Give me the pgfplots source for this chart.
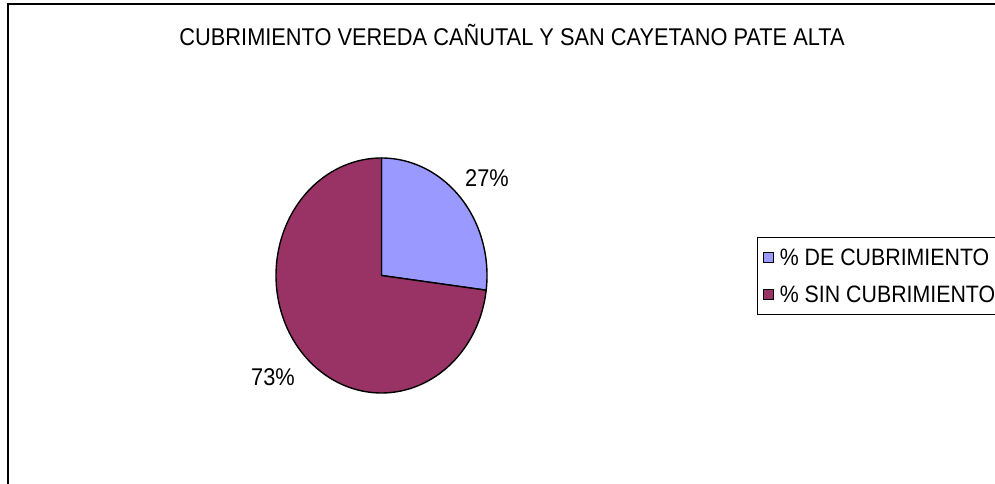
\documentclass[border=0pt]{standalone}
\usepackage{pgfplots}
\usepackage{pgfplotstable}
\pgfplotsset{compat=1.18}
\usepackage{fontspec}
\setmainfont{Liberation Sans}[FakeStretch=0.9]

\definecolor{cubierto}{HTML}{9999FF}
\definecolor{sincubrir}{HTML}{993366}

% share of each category (percent)
\pgfplotstableread{
categoria valor
cubierto   27
sincubrir  73
}\cubrimiento

\pgfplotstablegetelem{0}{valor}\of\cubrimiento
\let\valA\pgfplotsretval
\pgfplotstablegetelem{1}{valor}\of\cubrimiento
\let\valB\pgfplotsretval

% pie geometry in picture units (bp), slightly compressed horizontally
\def\cx{381.5}
\def\cy{208.5}
\def\rx{105.5}
\def\ry{117.5}

\begin{document}
\begin{tikzpicture}[x=1bp,y=1bp]
\useasboundingbox (0,0) rectangle (995,484);
\clip (0,0) rectangle (995,484);
\pgfmathsetmacro{\angA}{90-3.6*\valA}
\pgfmathsetmacro{\angB}{\angA-3.6*\valB}
\begin{axis}[
  at={(0,0)}, anchor=south west,
  scale only axis,
  width=995bp, height=484bp,
  xmin=0, xmax=995, ymin=0, ymax=484,
  hide axis,
  clip=false,
  font=\fontsize{24.3}{28}\selectfont,
  legend style={
    at={(axis cs:757,247)}, anchor=north west,
    draw=black, line width=1.4pt,
    inner xsep=5pt, inner ysep=9pt,
    row sep=15pt,
    font=\fontsize{23.8}{27}\selectfont,
    cells={anchor=west},
  },
]
  % covered share
  \addplot[fill=cubierto, draw=black, line width=1.4pt,
           domain=\angA:90, samples=80,
           legend image code/.code={
             \draw[fill=cubierto, draw=black, line width=1.2pt]
               (0bp,-5bp) rectangle (10bp,5bp);}]
    ({\cx+\rx*cos(x)}, {\cy+\ry*sin(x)}) -- (axis cs:\cx,\cy) -- cycle;
  \addlegendentry{\,\% DE CUBRIMIENTO}
  % uncovered share
  \addplot[fill=sincubrir, draw=black, line width=1.4pt,
           domain=\angB:\angA, samples=160,
           legend image code/.code={
             \draw[fill=sincubrir, draw=black, line width=1.2pt]
               (0bp,-5bp) rectangle (10bp,5bp);}]
    ({\cx+\rx*cos(x)}, {\cy+\ry*sin(x)}) -- (axis cs:\cx,\cy) -- cycle;
  \addlegendentry{\,\% SIN CUBRIMIENTO}

  % title and value labels
  \node[anchor=center] at (axis cs:512,449)
    {CUBRIMIENTO VEREDA CAÑUTAL Y SAN CAYETANO PATE ALTA};
  \node[anchor=center] at (axis cs:487,306) {\valA\%};
  \node[anchor=center] at (axis cs:273,107) {\valB\%};
\end{axis}
% chart frame (only top and left edges fall inside the picture)
\draw[line width=2.5pt] (8,-5) -- (8,480) -- (1000,480);
\end{tikzpicture}
\end{document}
